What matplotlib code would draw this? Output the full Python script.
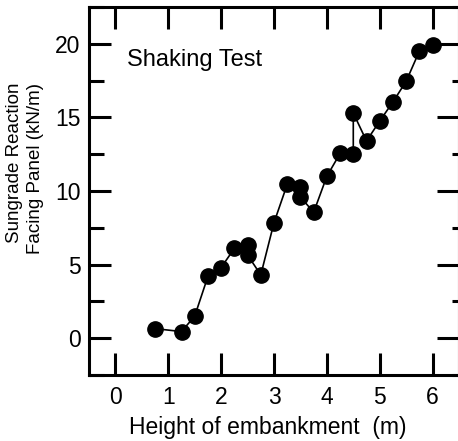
"""Subgrade reaction of facing panel vs embankment height (shaking test)."""

import matplotlib.pyplot as plt
from matplotlib.ticker import MultipleLocator

plt.rcParams["font.family"] = ["Liberation Sans", "DejaVu Sans"]

height_m = [0.75, 1.25, 1.5, 1.75, 2.0, 2.25, 2.5, 2.5, 2.75, 3.0, 3.25, 3.5,
            3.5, 3.75, 4.0, 4.25, 4.5, 4.5, 4.75, 5.0, 5.25, 5.5, 5.75, 6.0]
reaction_kn = [0.65, 0.45, 1.5, 4.2, 4.8, 6.1, 6.35, 5.65, 4.3, 7.85, 10.45, 10.3,
               9.6, 8.55, 11.0, 12.55, 12.5, 15.3, 13.4, 14.75, 16.05, 17.45, 19.5, 19.95]

fig = plt.figure(figsize=(4.58, 4.41), dpi=100)
ax = fig.add_axes([89 / 458, 1 - 375 / 441, 370 / 458, 368 / 441])

ax.plot(height_m, reaction_kn, color="black", lw=1.2, marker="o",
        markersize=11, markerfacecolor="black", markeredgecolor="black")

ax.set_xlim(-0.5, 6.5)
ax.set_ylim(-2.5, 22.5)
ax.xaxis.set_major_locator(MultipleLocator(1))
ax.yaxis.set_major_locator(MultipleLocator(5))
ax.yaxis.set_minor_locator(MultipleLocator(2.5))

for side in ax.spines.values():
    side.set_linewidth(2.2)

ax.tick_params(which="both", direction="in", top=True, right=True,
               length=11, width=2.2, labelsize=16.5)
ax.tick_params(axis="x", pad=8)
ax.tick_params(axis="y", pad=6)

# shorter minor ticks on the right side, longer ticks at zero
for tick in ax.yaxis.get_minor_ticks():
    tick.tick2line.set_markersize(5)
for tick in ax.xaxis.get_major_ticks() + ax.yaxis.get_major_ticks():
    if abs(tick.get_loc()) < 1e-9:
        tick.tick1line.set_markersize(16)
        tick.tick2line.set_markersize(16)

ax.set_xlabel("Height of embankment  (m)", fontsize=16.5)
ax.xaxis.set_label_coords(0.482, -0.112)

fig.text(15 / 458, 1 - 163 / 441, "Sungrade Reaction", rotation=90,
         ha="center", va="center", fontsize=13.5)
fig.text(36 / 458, 1 - 168 / 441, "Facing Panel (kN/m)", rotation=90,
         ha="center", va="center", fontsize=13.5)

ax.text(0.21, 18.9, "Shaking Test", fontsize=17, ha="left", va="center")

fig.savefig("out.png", dpi=100)
